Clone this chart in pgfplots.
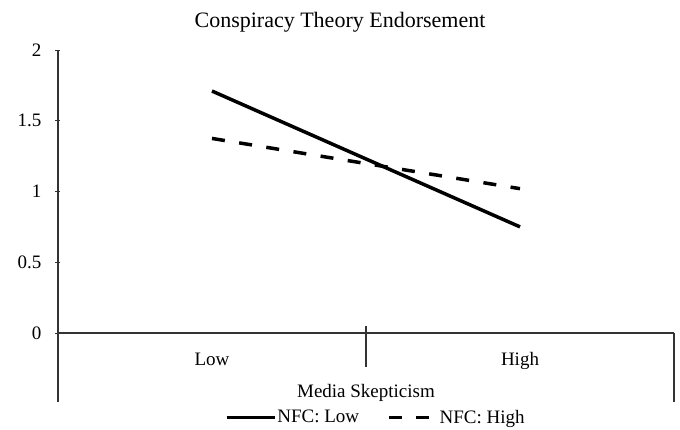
\documentclass[border=0pt]{standalone}
\usepackage{fontspec}
\setmainfont{Liberation Serif}
\usepackage{pgfplots}
\pgfplotsset{compat=1.18}
\begin{document}
\begin{tikzpicture}[x=1pt,y=1pt]
\useasboundingbox (0,0) rectangle (680,429);
\node[anchor=base, font=\fontsize{22}{26}\selectfont] at (340,401) {Conspiracy Theory Endorsement};
\begin{axis}[
    at={(58pt,96pt)}, anchor=south west,
    scale only axis, width=616pt, height=283pt,
    xmin=0, xmax=2, ymin=0, ymax=2,
    clip=false,
    font=\fontsize{19}{22}\selectfont,
    /pgf/number format/assume math mode=true,
    axis x line=bottom, axis y line=left,
    axis line style={-, line width=1.2pt, black!80},
    ytick={0,0.5,1,1.5,2},
    ytick style={line width=1pt, black!80},
    major tick length=5pt,
    yticklabel style={xshift=-10.7pt},
    xtick={0.5,1.5}, xticklabels={Low,High},
    xtick style={draw=none},
    xticklabel style={anchor=base, yshift=-30pt},
    xlabel={Media Skepticism},
    xlabel style={at={(axis description cs:0.5,0)}, anchor=base, yshift=-64pt},
    legend columns=2,
    legend style={at={(axis description cs:0.515,-0.298)}, anchor=center,
        draw=none, fill=none, inner sep=0pt, column sep=0pt,
        nodes={inner sep=1pt},
        /tikz/every even column/.append style={column sep=27pt}},
    legend image code/.code={\draw[#1] (0pt,0pt) -- (48pt,0pt);},
]
\addplot[black, line width=3.5pt] coordinates {(0.5,1.71) (1.5,0.75)};
\addplot[black, line width=3.5pt, dash pattern=on 13pt off 14.5pt] coordinates {(0.5,1.375) (1.5,1.02)};
\legend{NFC: Low, NFC: High}
\draw[line width=1.2pt, black!80] (axis cs:1,0) ++(0,7pt) -- ++(0,-41pt);
\draw[line width=1.2pt, black!80] (axis cs:0,0) -- ++(0,-69pt);
\draw[line width=1.2pt, black!80] (axis cs:2,0) -- ++(0,-69pt);
\end{axis}
\end{tikzpicture}
\end{document}
